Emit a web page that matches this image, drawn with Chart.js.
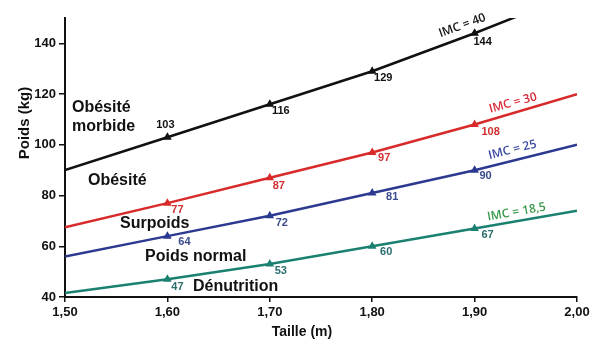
<!DOCTYPE html>
<html>
<head>
<meta charset="utf-8">
<script src="https://cdn.jsdelivr.net/npm/chart.js@4"></script>
<style>
  html, body { margin: 0; padding: 0; background: #fff; }
  #wrap { width: 600px; height: 351px; position: relative; }
</style>
</head>
<body>
<div id="wrap"><canvas id="chart"></canvas></div>
<script>
// heights (m) and weights (kg)
const tailles = [1.5, 1.6, 1.7, 1.8, 1.9, 2.0];
const imc40 = [90, 103, 116, 129, 144, 160];
const imc30 = [67.5, 77, 87, 97, 108, 120];
const imc25 = [56, 64, 72, 81, 90, 100];
const imc185 = [41.6, 47, 53, 60, 67, 74];
const yTicks = [40, 60, 80, 100, 120, 140];

const series = [
  { name: 'IMC = 40', values: imc40, color: '#111111', labelColor: '#111111', valueColor: '#111111' },
  { name: 'IMC = 30', values: imc30, color: '#d82a2a', labelColor: '#d82a3a', valueColor: '#d03030' },
  { name: 'IMC = 25', values: imc25, color: '#2b3990', labelColor: '#3a4aa0', valueColor: '#3a4a8a' },
  { name: 'IMC = 18,5', values: imc185, color: '#1a8070', labelColor: '#3a9a4a', valueColor: '#2a6e6e' },
];

// where the value labels sit relative to their point
const valueOffsets = [
  [[-2, -12], [11, 7], [11, 7], [8, 9]],
  [[10, 7], [9, 8], [12, 6], [16, 7]],
  [[17, 6], [12, 7], [20, 4], [11, 6]],
  [[10, 8], [11, 7], [14, 6], [13, 6]],
];

// IMC labels: [x value, y value, angle]
const imcLabels = [
  [1.888, 147, -20],
  [1.9375, 116.5, -15],
  [1.937, 98, -14],
  [1.941, 73.5, -10],
];

const zones = [
  ['Obésité', 72, 108],
  ['morbide', 72, 127],
  ['Obésité', 88, 181],
  ['Surpoids', 120, 224],
  ['Poids normal', 145, 257],
  ['Dénutrition', 193, 287],
];

const fmt = (v) => v.toFixed(2).replace('.', ',');

const overlay = {
  id: 'overlay',
  afterDatasetsDraw(chart) {
    const { ctx, scales } = chart;
    const x = scales.x;
    const y = scales.y;
    ctx.save();

    // value labels at 1,60 .. 1,90
    ctx.font = 'bold 11px "Liberation Sans", Arial, sans-serif';
    ctx.textAlign = 'center';
    ctx.textBaseline = 'middle';
    series.forEach((s, i) => {
      for (let k = 1; k <= 4; k++) {
        const px = x.getPixelForValue(tailles[k]);
        const py = y.getPixelForValue(s.values[k]);
        const off = valueOffsets[i][k - 1];
        ctx.fillStyle = s.valueColor;
        ctx.fillText(String(Math.round(s.values[k])), px + off[0], py + off[1]);
      }
    });

    // IMC labels along the lines
    ctx.font = '600 12px "Open Sans", sans-serif';
    series.forEach((s, i) => {
      const l = imcLabels[i];
      ctx.save();
      ctx.translate(x.getPixelForValue(l[0]), y.getPixelForValue(l[1]));
      ctx.rotate(l[2] * Math.PI / 180);
      ctx.fillStyle = s.labelColor;
      ctx.fillText(s.name, 0, 0);
      ctx.restore();
    });

    // zone names
    ctx.font = 'bold 16px "Liberation Sans", Arial, sans-serif';
    ctx.textAlign = 'left';
    ctx.fillStyle = '#111';
    zones.forEach((z) => ctx.fillText(z[0], z[1], z[2]));

    // axis titles
    ctx.font = 'bold 14px "Liberation Sans", Arial, sans-serif';
    ctx.textAlign = 'center';
    ctx.fillText('Taille (m)', 302, 332);
    ctx.save();
    ctx.translate(25, 123);
    ctx.rotate(-Math.PI / 2);
    ctx.font = 'bold 15px "Liberation Sans", Arial, sans-serif';
    ctx.fillText('Poids (kg)', 0, 0);
    ctx.restore();

    ctx.restore();
  },
};

new Chart(document.getElementById('chart'), {
  type: 'line',
  data: {
    datasets: series.map((s) => ({
      label: s.name,
      data: tailles.map((t, k) => ({ x: t, y: s.values[k] })),
      borderColor: s.color,
      backgroundColor: s.color,
      borderWidth: 2.5,
      tension: 0,
      pointStyle: 'triangle',
      pointRadius: [0, 2.5, 2.5, 2.5, 2.5, 0],
      pointHoverRadius: 0,
    })),
  },
  options: {
    responsive: true,
    maintainAspectRatio: false,
    animation: false,
    events: [],
    layout: { padding: { top: 18, right: 23, left: 0, bottom: 0 } },
    plugins: { legend: { display: false }, tooltip: { enabled: false } },
    scales: {
      x: {
        type: 'linear',
        min: 1.5,
        max: 2.0,
        afterBuildTicks: (scale) => { scale.ticks = tailles.map((v) => ({ value: v })); },
        afterFit: (scale) => { scale.height = 54; },
        grid: { drawOnChartArea: false, drawTicks: true, tickLength: 5, color: '#111', lineWidth: 1.5 },
        border: { display: true, color: '#111', width: 2 },
        ticks: {
          padding: 3,
          color: '#111',
          font: { family: '"Liberation Sans", Arial, sans-serif', size: 13, weight: 'bold' },
          callback: (v) => fmt(v),
          maxRotation: 0,
        },
      },
      y: {
        min: 40,
        max: 150,
        afterBuildTicks: (scale) => { scale.ticks = yTicks.map((v) => ({ value: v })); },
        afterFit: (scale) => { scale.width = 65; },
        grid: { drawOnChartArea: false, drawTicks: true, tickLength: 6, color: '#111', lineWidth: 1.5 },
        border: { display: true, color: '#111', width: 2 },
        ticks: {
          padding: 3,
          color: '#111',
          font: { family: '"Liberation Sans", Arial, sans-serif', size: 13, weight: 'bold' },
        },
      },
    },
  },
  plugins: [overlay],
});
</script>
</body>
</html>
